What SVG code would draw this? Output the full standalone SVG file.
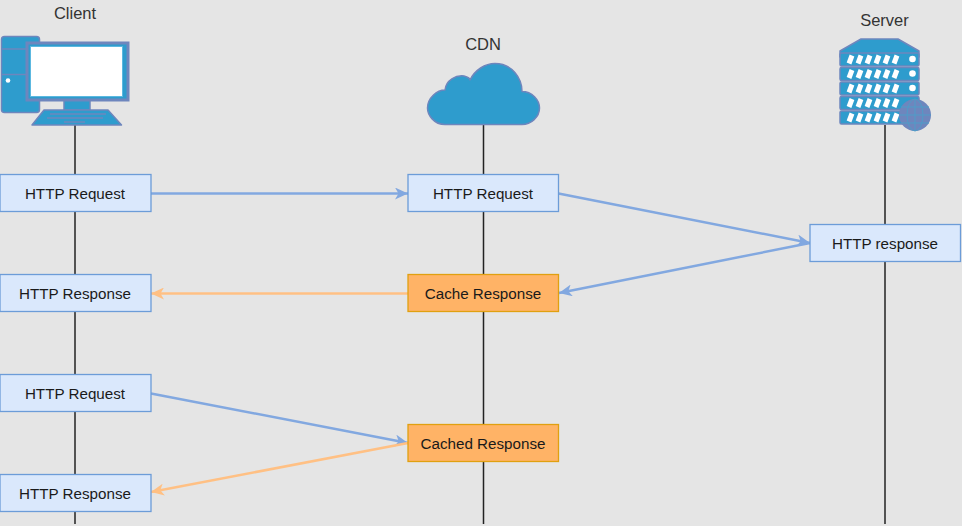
<svg xmlns="http://www.w3.org/2000/svg" width="962" height="526" viewBox="0 0 962 526">
<style>
text{font-family:"Liberation Sans",Arial,sans-serif;font-size:15.2px;fill:#1a1a1a;text-anchor:middle}
.t{fill:#333;font-size:16.5px}
.b{fill:#dae8fc;stroke:#6c9cd8;stroke-width:1.3}
.o{fill:#ffb366;stroke:#e0a010;stroke-width:1.3}
.l{stroke:#222;stroke-width:1.5;fill:none}
.ab{stroke:#82a8e0;stroke-width:2.5;fill:none}
.ao{stroke:#ffc084;stroke-width:2.5;fill:none}
.i{fill:#2e9ccd;stroke:#6e86bd;stroke-width:1.5;stroke-linejoin:round}
.s{fill:none;stroke:#6e86bd;stroke-width:1.5}
.w{fill:#fff}
</style>
<defs>
<marker id="mb" markerUnits="userSpaceOnUse" markerWidth="14" markerHeight="12" refX="13" refY="6" orient="auto"><path d="M0 0L13 6L0 12L3.5 6Z" fill="#82a8e0"/></marker>
<marker id="mo" markerUnits="userSpaceOnUse" markerWidth="14" markerHeight="12" refX="13" refY="6" orient="auto"><path d="M0 0L13 6L0 12L3.500 6Z" fill="#ffc084"/></marker>
</defs>
<rect width="962" height="526" fill="#e5e5e5"/>
<g id="lifelines">
<path class="l" d="M75 125V524"/>
<path class="l" d="M483.500 125V524"/>
<path class="l" d="M885 125V524"/>
</g>
<g id="connectors">
<path class="ab" marker-end="url(#mb)" d="M151 193.500H408"/>
<path class="ab" marker-end="url(#mb)" d="M558.500 193.500L810 243"/>
<path class="ab" marker-end="url(#mb)" d="M810 243L559 293"/>
<path class="ao" marker-end="url(#mo)" d="M408 293.500H151"/>
<path class="ab" marker-end="url(#mb)" d="M151 393.500L408 443"/>
<path class="ao" marker-end="url(#mo)" d="M408 443L151 492"/>
</g>
<g id="client">
<text class="t" x="75" y="18.500">Client</text>
<rect class="i" x="1.500" y="36.500" width="38" height="76" rx="3"/>
<path class="s" d="M2 49H27M2 74.500H27"/>
<circle class="w" cx="8" cy="80.500" r="2.300"/>
<rect class="i" x="64" y="100" width="26" height="10"/>
<path class="i" d="M44 110H108L121.500 125H32Z"/>
<path class="s" stroke-width="1" d="M50 114H106M47 118H103M64 122H85"/>
<rect x="27" y="43" width="101" height="57" fill="#2e9ccd" stroke="#6e86bd" stroke-width="3"/>
<rect x="30.500" y="46.500" width="92" height="50" fill="#fff" stroke="#5cb8e0" stroke-width="1"/>
</g>
<g id="cdn">
<text class="t" x="483" y="50">CDN</text>
<path class="i" d="M445 124.500C434 124.500 427.500 115 427.500 108C427.500 98 437 90 445 90C446 80 456 75 464 76C468 77 470 79 470 80C475 70 485 63.500 495 63.500C512 63.500 522 78 522 91.500C532 91.500 539.500 100 539.500 108C539.500 117 531 124.500 522 124.500Z"/>
</g>
<g id="server">
<text class="t" x="884.500" y="25.500">Server</text>
<path class="i" d="M840 51L861 39H898L919 51V57H840Z"/>
<g id="racks">
<rect class="i" x="840" y="53" width="79" height="13" rx="1.500"/>
<rect class="i" x="840" y="67.500" width="79" height="13" rx="1.500"/>
<rect class="i" x="840" y="82" width="79" height="13" rx="1.500"/>
<rect class="i" x="840" y="96.500" width="79" height="13" rx="1.500"/>
<rect class="i" x="840" y="111" width="79" height="13" rx="1.500"/>
</g>
<path stroke="#fff" stroke-width="5" fill="none" d="M849 63.500L852 55.500M858 63.500L861 55.500M867 63.500L870 55.500M876 63.500L879 55.500M885 63.500L888 55.500M894 63.500L897 55.500M849 78L852 70M858 78L861 70M867 78L870 70M876 78L879 70M885 78L888 70M894 78L897 70M849 92.500L852 84.500M858 92.500L861 84.500M867 92.500L870 84.500M876 92.500L879 84.500M885 92.500L888 84.500M894 92.500L897 84.500M849 107L852 99M858 107L861 99M867 107L870 99M876 107L879 99M885 107L888 99M894 107L897 99M849 121.500L852 113.500M858 121.500L861 113.500M867 121.500L870 113.500M876 121.500L879 113.500M885 121.500L888 113.500M894 121.500L897 113.500"/>
<circle class="w" cx="912.500" cy="59" r="3.300"/>
<circle class="w" cx="912.500" cy="73.500" r="3.300"/>
<circle class="w" cx="912.500" cy="88" r="3.300"/>
<circle cx="915" cy="115" r="16" fill="#6e86bd"/>
<path fill="none" stroke="#4f9cc8" stroke-width="1" d="M899 115H931M901 107H929M901 123H929M915 99V131"/>
<ellipse cx="915" cy="115" rx="8" ry="16" fill="none" stroke="#4f9cc8" stroke-width="1"/>
</g>
<g id="n1"><rect class="b" x="0" y="174.500" width="151" height="37"/><text x="75" y="198.500">HTTP Request</text></g>
<g id="n2"><rect class="b" x="408" y="174.500" width="150.500" height="37"/><text x="483" y="198.500">HTTP Request</text></g>
<g id="n3"><rect class="b" x="810" y="224.500" width="150.500" height="37"/><text x="885" y="248.500">HTTP response</text></g>
<g id="n4"><rect class="b" x="0" y="274.500" width="151" height="37"/><text x="75" y="298.500">HTTP Response</text></g>
<g id="n5"><rect class="o" x="408" y="274.500" width="150.500" height="37"/><text x="483" y="298.500">Cache Response</text></g>
<g id="n6"><rect class="b" x="0" y="374.500" width="151" height="37"/><text x="75" y="398.500">HTTP Request</text></g>
<g id="n7"><rect class="o" x="408" y="424.500" width="150.500" height="37"/><text x="483" y="448.500">Cached Response</text></g>
<g id="n8"><rect class="b" x="0" y="474.500" width="151" height="37"/><text x="75" y="498.500">HTTP Response</text></g>
</svg>
